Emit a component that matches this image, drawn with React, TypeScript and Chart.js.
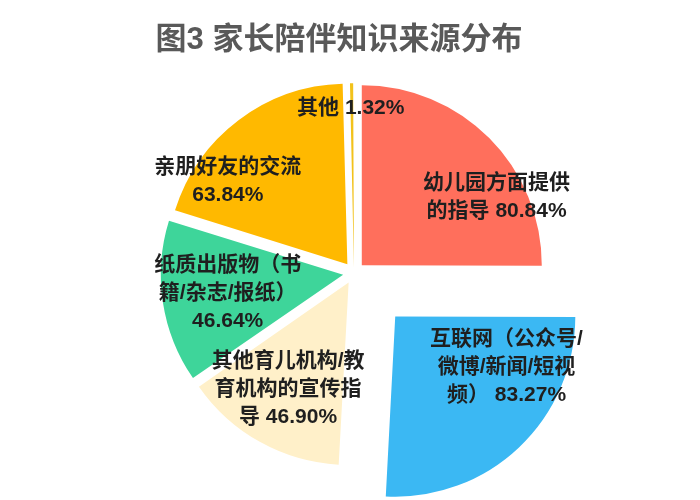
import React, { useEffect, useRef } from 'react';
import Chart from 'chart.js/auto';

const chartTitle = '图3 家长陪伴知识来源分布';
const sources = [
    '幼儿园方面提供的指导',
    '互联网（公众号/微博/新闻/短视频）',
    '其他育儿机构/教育机构的宣传指导',
    '纸质出版物（书籍/杂志/报纸）',
    '亲朋好友的交流',
    '其他',
];
const shares = [80.84, 83.27, 46.9, 46.64, 63.84, 1.32];
const sliceColors = ['#FF6F5C', '#3BB8F3', '#FFF0C9', '#3ED59A', '#FFB900', '#F2C21B'];
const sliceOffsets = [44, 240, 44, 44, 44, 20];
// where each label sits: turn from the slice middle (deg) and distance as part of the radius
const labelTurn = [18, -22, 0.5, -0.6, -18, -0.4];
const labelDistance = [0.84, 0.68, 0.68, 0.65, 0.81, 0.89];

const LABEL_FONT = 'bold 21px "Liberation Sans", "Noto Sans CJK SC", sans-serif';
const TITLE_FONT = 'bold 31px "Liberation Sans", "Noto Sans CJK SC", sans-serif';

// break CJK text char by char, keep latin runs (numbers, %) together
const wrapText = (ctx: CanvasRenderingContext2D, text: string, maxWidth: number) => {
    const tokens = text.match(/[\x21-\x7e]+|\s|./gu) || [];
    const lines: string[] = [];
    let line = '';
    tokens.forEach((tok) => {
        const next = line + tok;
        if (line && ctx.measureText(next.trimEnd()).width > maxWidth) {
            lines.push(line.trim());
            line = tok.trim() ? tok : '';
        } else {
            line = next;
        }
    });
    if (line.trim()) lines.push(line.trim());
    return lines;
};

const sliceLabels = {
    id: 'sliceLabels',
    afterDatasetsDraw(chart: any) {
        const { ctx } = chart;
        const meta = chart.getDatasetMeta(0);
        ctx.save();
        ctx.font = LABEL_FONT;
        ctx.fillStyle = '#1f1f1f';
        ctx.textAlign = 'center';
        ctx.textBaseline = 'middle';
        meta.data.forEach((arc: any, i: number) => {
            const { x, y, startAngle, endAngle, outerRadius } = arc.getProps(
                ['x', 'y', 'startAngle', 'endAngle', 'outerRadius'],
                true
            );
            const mid = (startAngle + endAngle) / 2;
            const push = (arc.options.offset || 0) / 4;
            const cx = x + Math.cos(mid) * push;
            const cy = y + Math.sin(mid) * push;
            const a = mid + (labelTurn[i] * Math.PI) / 180;
            const d = labelDistance[i] * outerRadius;
            const lx = cx + Math.cos(a) * d;
            const ly = cy + Math.sin(a) * d;
            const lines = wrapText(ctx, `${sources[i]} ${shares[i].toFixed(2)}%`, 156);
            lines.forEach((ln, k) => {
                ctx.fillText(ln, lx, ly + (k - (lines.length - 1) / 2) * 28);
            });
        });
        ctx.restore();
    },
};

const titleText = {
    id: 'titleText',
    afterDraw(chart: any) {
        const { ctx } = chart;
        ctx.save();
        ctx.font = TITLE_FONT;
        ctx.fillStyle = '#595959';
        ctx.textAlign = 'center';
        ctx.textBaseline = 'middle';
        ctx.fillText(chartTitle, chart.width / 2 - 11, 40);
        ctx.restore();
    },
};

const App: React.FC = () => {
    const canvasRef = useRef<HTMLCanvasElement>(null);
    const chartRef = useRef<Chart | null>(null);

    useEffect(() => {
        if (!canvasRef.current) return;
        if (chartRef.current) chartRef.current.destroy();

        chartRef.current = new Chart(canvasRef.current, {
            type: 'pie',
            data: {
                labels: sources,
                datasets: [
                    {
                        data: shares,
                        backgroundColor: sliceColors,
                        offset: sliceOffsets,
                        borderWidth: 0,
                        clip: false,
                    } as any,
                ],
            },
            options: {
                animation: false,
                responsive: true,
                maintainAspectRatio: false,
                radius: 180,
                events: [],
                layout: { padding: { left: 8, right: 0, top: 46, bottom: 0 } },
                plugins: {
                    legend: { display: false },
                    tooltip: { enabled: false },
                    title: { display: false },
                },
            } as any,
            plugins: [sliceLabels, titleText],
        });

        return () => {
            if (chartRef.current) chartRef.current.destroy();
            chartRef.current = null;
        };
    }, []);

    return (
        <div style={{ position: 'absolute', left: 0, top: 0, width: 700, height: 500, background: '#fff' }}>
            <canvas ref={canvasRef}></canvas>
        </div>
    );
};

export default App;
